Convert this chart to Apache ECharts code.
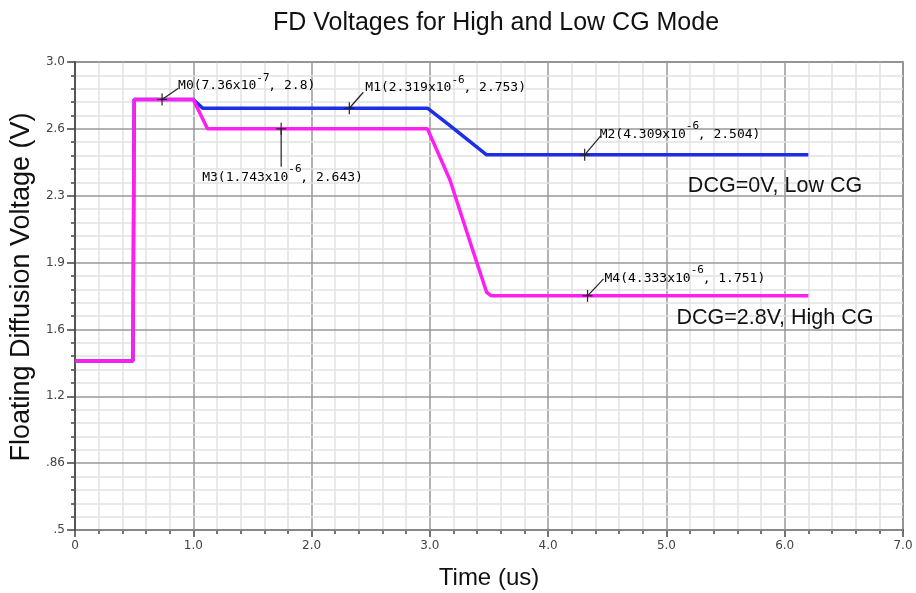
<!DOCTYPE html>
<html>
<head>
<meta charset="utf-8">
<script src="https://cdn.jsdelivr.net/npm/echarts@6/dist/echarts.min.js"></script>
<style>
  html, body { margin: 0; padding: 0; background: #fff; }
  #chart { width: 916px; height: 593px; }
</style>
</head>
<body>
<div id="chart"></div>
<script>
// time in us, voltage in V
const lowCgTime  = [0, 0.49, 0.50, 1.00, 1.08, 2.98, 3.17, 3.48, 6.20];
const lowCgVolt  = [1.403, 1.403, 2.80, 2.80, 2.753, 2.753, 2.66, 2.504, 2.504];
const highCgTime = [0, 0.49, 0.50, 1.00, 1.12, 2.98, 3.17, 3.36, 3.48, 3.52, 6.20];
const highCgVolt = [1.403, 1.403, 2.80, 2.80, 2.643, 2.643, 2.37, 2.00, 1.77, 1.751, 1.751];

const markerNames  = ['M0', 'M1', 'M2', 'M3', 'M4'];
const markerTimes  = [0.736, 2.319, 4.309, 1.743, 4.333];
const markerVolts  = [2.8, 2.753, 2.504, 2.643, 1.751];
const markerMant   = ['7.36', '2.319', '4.309', '1.743', '4.333'];
const markerExp    = ['-7', '-6', '-6', '-6', '-6'];

const xTicks = [0, 1, 2, 3, 4, 5, 6, 7];
const xTickLabels = ['0', '1.0', '2.0', '3.0', '4.0', '5.0', '6.0', '7.0'];
const yTicks = [0.5, 0.857, 1.214, 1.571, 1.929, 2.286, 2.643, 3.0];
const yTickLabels = ['.5', '.86', '1.2', '1.6', '1.9', '2.3', '2.6', '3.0'];

// leader line / label placement per marker (pixels from the marker)
const markerLayout = [
  { lx: 16, ly: -11, tx: 16, ty: -15 },
  { lx: 14, ly: -16, tx: 16, ty: -22 },
  { lx: 16, ly: -19, tx: 15, ty: -22 },
  { lx: 0,  ly: 38,  tx: -79, ty: 47 },
  { lx: 16, ly: -17, tx: 17, ty: -19 }
];

// minor grid: 5 steps between major y ticks
const yMinor = [];
for (let i = 0; i < yTicks.length - 1; i++) {
  const step = (yTicks[i + 1] - yTicks[i]) / 5;
  for (let k = 1; k < 5; k++) yMinor.push(yTicks[i] + step * k);
}

const zip = (a, b) => a.map((v, i) => [v, b[i]]);

const chart = echarts.init(document.getElementById('chart'), null, { renderer: 'canvas' });

const labelFont = 'DejaVu Sans';

chart.setOption({
  animation: false,
  backgroundColor: '#fff',
  title: {
    text: 'FD Voltages for High and Low CG Mode',
    left: 268,
    top: 6,
    textStyle: { fontFamily: 'Liberation Sans', fontSize: 25, fontWeight: 'normal', color: '#111' }
  },
  grid: {
    left: 75, right: 13, top: 62, bottom: 63,
    outerBoundsMode: 'none',
    containLabel: false,
    show: true, borderColor: '#666', borderWidth: 1.5, backgroundColor: '#fff'
  },
  xAxis: {
    type: 'value',
    min: 0, max: 7, interval: 1,
    name: 'Time (us)',
    nameLocation: 'middle',
    nameGap: 36,
    nameTextStyle: { fontFamily: 'Liberation Sans', fontSize: 24, color: '#111' },
    axisLine: { show: true, lineStyle: { color: '#555', width: 2 } },
    axisTick: { show: true, length: 7, lineStyle: { color: '#444', width: 1.5 } },
    minorTick: { show: true, splitNumber: 5, length: 4, lineStyle: { color: '#444', width: 1.5 } },
    axisLabel: {
      margin: 10,
      fontFamily: labelFont, fontSize: 12, color: '#444',
      formatter: v => xTickLabels[xTicks.indexOf(Math.round(v))]
    },
    splitLine: { show: true, lineStyle: { color: '#999', width: 1.5 } },
    minorSplitLine: { show: true, lineStyle: { color: '#e2e2e2', width: 1.5 } }
  },
  yAxis: [
    {
      type: 'value',
      min: 0.5, max: 3.0,
      name: 'Floating Diffusion Voltage (V)',
      nameLocation: 'middle',
      nameGap: 38,
      nameTextStyle: { fontFamily: 'Liberation Sans', fontSize: 27, color: '#111', padding: [0, 0, 0, 18] },
      axisLine: { show: true, lineStyle: { color: '#555', width: 2 } },
      axisTick: { show: true, length: 8, customValues: yTicks, lineStyle: { color: '#444', width: 1.5 } },
      axisLabel: {
        customValues: yTicks,
        margin: 10,
        fontFamily: labelFont, fontSize: 12, color: '#444',
        formatter: v => {
          let best = 0;
          yTicks.forEach((t, i) => { if (Math.abs(t - v) < Math.abs(yTicks[best] - v)) best = i; });
          return yTickLabels[best];
        }
      },
      splitLine: { show: true, lineStyle: { color: '#999', width: 1.5 } },
      z: 2
    },
    {
      type: 'value',
      min: 0.5, max: 3.0,
      position: 'left',
      axisLine: { show: false },
      axisLabel: { show: false },
      axisTick: { show: true, length: 4, customValues: yMinor, lineStyle: { color: '#444', width: 1.5 } },
      splitLine: { show: true, lineStyle: { color: '#e2e2e2', width: 1.5 } },
      z: 1
    }
  ],
  series: [
    {
      name: 'DCG=0V, Low CG',
      type: 'line',
      data: zip(lowCgTime, lowCgVolt),
      showSymbol: false,
      lineStyle: { color: '#1c2fe6', width: 3.5 },
      z: 3
    },
    {
      name: 'DCG=2.8V, High CG',
      type: 'line',
      data: zip(highCgTime, highCgVolt),
      showSymbol: false,
      lineStyle: { color: '#ff1ff0', width: 3.5 },
      z: 4
    },
    {
      type: 'custom',
      data: zip(markerTimes, markerVolts),
      clip: false,
      z: 10,
      renderItem: (params, api) => {
        const i = params.dataIndex;
        const p = api.coord([api.value(0), api.value(1)]);
        const m = markerLayout[i];
        const stroke = { stroke: '#222', lineWidth: 1.2 };
        const txt = '{n|' + markerNames[i] + '(' + markerMant[i] + 'x10}{s|' + markerExp[i] +
          '}{n|, ' + markerVolts[i] + ')}';
        return {
          type: 'group',
          children: [
            { type: 'line', shape: { x1: p[0] - 5, y1: p[1], x2: p[0] + 5, y2: p[1] }, style: stroke },
            { type: 'line', shape: { x1: p[0], y1: p[1] - 6, x2: p[0], y2: p[1] + 6 }, style: stroke },
            { type: 'line', shape: { x1: p[0], y1: p[1], x2: p[0] + m.lx, y2: p[1] + m.ly }, style: stroke },
            {
              type: 'text',
              x: p[0] + m.tx, y: p[1] + m.ty - 2,
              style: {
                text: txt,
                verticalAlign: 'middle', align: 'left',
                rich: {
                  n: { fontFamily: 'DejaVu Sans Mono', fontSize: 13, color: '#333', lineHeight: 20, verticalAlign: 'bottom' },
                  s: { fontFamily: 'DejaVu Sans Mono', fontSize: 11, color: '#333', lineHeight: 12, verticalAlign: 'top', width: 12 }
                }
              }
            }
          ]
        };
      }
    }
  ],
  graphic: [
    {
      type: 'text', x: 775, y: 186, z: 100,
      style: { text: 'DCG=0V, Low CG', font: '21.5px "Liberation Sans"', fill: '#111', align: 'center', verticalAlign: 'middle' }
    },
    {
      type: 'text', x: 775, y: 318, z: 100,
      style: { text: 'DCG=2.8V, High CG', font: '21.5px "Liberation Sans"', fill: '#111', align: 'center', verticalAlign: 'middle' }
    }
  ]
});
</script>
</body>
</html>
